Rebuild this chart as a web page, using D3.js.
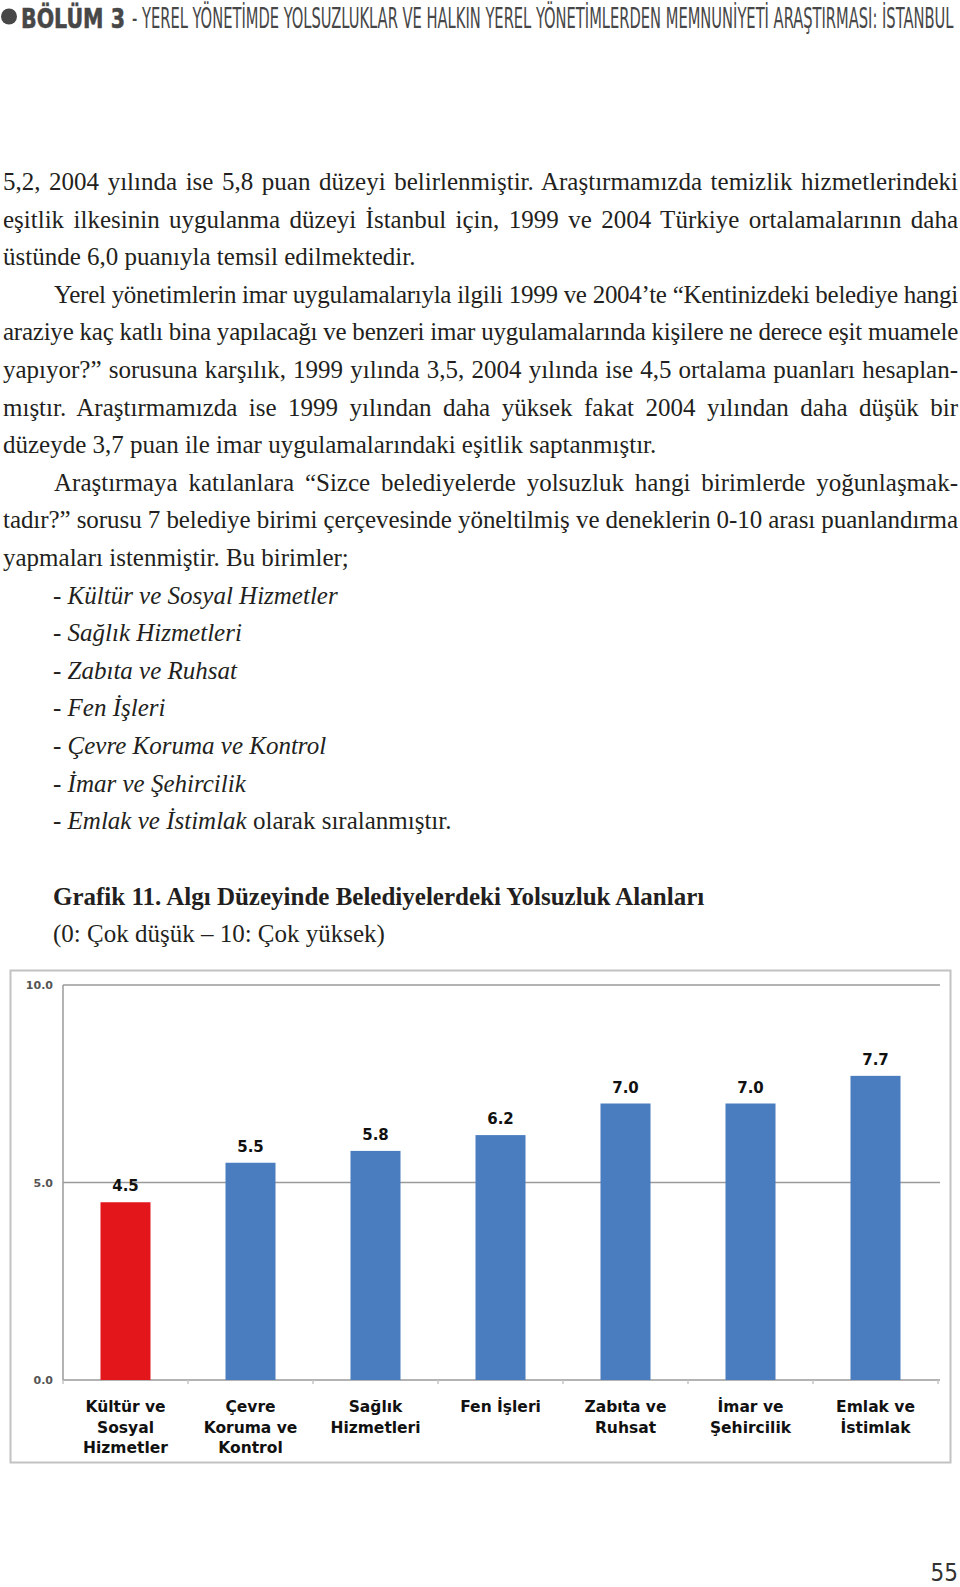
<!DOCTYPE html>
<html>
<head>
<meta charset="utf-8">
<script src="https://cdn.jsdelivr.net/npm/d3@7"></script>
<style>
  html, body { margin: 0; padding: 0; background: #fff; }
  svg { display: block; }
  .body-text { font-family: "Liberation Serif", "DejaVu Serif", serif; font-size: 25px; fill: #231f20; }
  .cat { font-family: "DejaVu Sans", sans-serif; font-weight: bold; font-size: 15.5px; fill: #111; }
  .val { font-family: "DejaVu Sans", sans-serif; font-weight: bold; font-size: 15px; fill: #111; }
  .tick-lbl { font-family: "DejaVu Sans", sans-serif; font-weight: bold; font-size: 11px; fill: #555; }
</style>
</head>
<body>
<div class="page"></div>
<script>
// chart data
const categories = [
  ["Kültür ve", "Sosyal", "Hizmetler"],
  ["Çevre", "Koruma ve", "Kontrol"],
  ["Sağlık", "Hizmetleri"],
  ["Fen İşleri"],
  ["Zabıta ve", "Ruhsat"],
  ["İmar ve", "Şehircilik"],
  ["Emlak ve", "İstimlak"]
]
const scores = [4.5, 5.5, 5.8, 6.2, 7.0, 7.0, 7.7]
const highlight = [true, false, false, false, false, false, false]
const yTicks = [0, 5, 10]

// page text
const bodyLines = [
  { t: "5,2, 2004 yılında ise 5,8 puan düzeyi belirlenmiştir. Araştırmamızda temizlik hizmetlerindeki", j: true },
  { t: "eşitlik ilkesinin uygulanma düzeyi İstanbul için, 1999 ve 2004 Türkiye ortalamalarının daha", j: true },
  { t: "üstünde 6,0 puanıyla temsil edilmektedir." },
  { t: "Yerel yönetimlerin imar uygulamalarıyla ilgili 1999 ve 2004’te “Kentinizdeki belediye hangi", j: true, indent: true },
  { t: "araziye kaç katlı bina yapılacağı ve benzeri imar uygulamalarında kişilere ne derece eşit muamele", j: true },
  { t: "yapıyor?” sorusuna karşılık, 1999 yılında 3,5, 2004 yılında ise 4,5 ortalama puanları hesaplan-", j: true },
  { t: "mıştır. Araştırmamızda ise 1999 yılından daha yüksek fakat 2004 yılından daha düşük bir", j: true },
  { t: "düzeyde 3,7 puan ile imar uygulamalarındaki eşitlik saptanmıştır." },
  { t: "Araştırmaya katılanlara “Sizce belediyelerde yolsuzluk hangi birimlerde yoğunlaşmak-", j: true, indent: true },
  { t: "tadır?” sorusu 7 belediye birimi çerçevesinde yöneltilmiş ve deneklerin 0-10 arası puanlandırma", j: true },
  { t: "yapmaları istenmiştir. Bu birimler;" },
  { t: "- Kültür ve Sosyal Hizmetler", it: true },
  { t: "- Sağlık Hizmetleri", it: true },
  { t: "- Zabıta ve Ruhsat", it: true },
  { t: "- Fen İşleri", it: true },
  { t: "- Çevre Koruma ve Kontrol", it: true },
  { t: "- İmar ve Şehircilik", it: true },
  { t: "- Emlak ve İstimlak", it: true, tail: " olarak sıralanmıştır." }
]

const W = 960, H = 1587
const svg = d3.select(".page").append("svg")
  .attr("width", W)
  .attr("height", H)

// squeeze a text horizontally so it spans a given width
function fitWidth(sel, x0, y0, width) {
  const natural = sel.node().getComputedTextLength()
  sel.attr("transform", `translate(${x0},${y0}) scale(${width / natural},1)`)
}

// header
const narrow = "Liberation Sans Narrow, DejaVu Sans Condensed, sans-serif"
const head = svg.append("g").attr("fill", "#474747")
head.append("circle").attr("cx", 9).attr("cy", 16.5).attr("r", 8)
const bold = head.append("text")
  .attr("font-family", "DejaVu Sans").attr("font-weight", "bold").attr("font-size", 27)
  .attr("stroke", "#474747").attr("stroke-width", 0.6)
  .text("BÖLÜM 3")
fitWidth(bold, 21, 28, 104)
const rest = head.append("text")
  .attr("font-family", narrow).attr("font-size", 28)
  .text("-  YEREL YÖNETİMDE YOLSUZLUKLAR VE HALKIN YEREL YÖNETİMLERDEN MEMNUNİYETİ ARAŞTIRMASI: İSTANBUL")
fitWidth(rest, 132, 28, 822)

// body text, justified by word spacing
const left = 3, right = 958, indentX = 54, listX = 53
const lineY = i => 190 + 37.6 * i

bodyLines.forEach((d, i) => {
  const x0 = d.it ? listX : (d.indent ? indentX : left)
  const txt = svg.append("text")
    .attr("class", "body-text")
    .attr("x", x0)
    .attr("y", lineY(i))
  txt.append("tspan").attr("font-style", d.it ? "italic" : null).text(d.t)
  if (d.tail) txt.append("tspan").text(d.tail)
  if (d.j) {
    const natural = txt.node().getComputedTextLength()
    const extra = right - x0 - natural
    if (extra >= 0) {
      txt.attr("word-spacing", extra / (d.t.split(" ").length - 1))
    } else {
      txt.attr("letter-spacing", extra / d.t.length)
    }
  }
})

// chart title
svg.append("text")
  .attr("class", "body-text")
  .attr("x", 53).attr("y", 905)
  .attr("font-weight", "bold")
  .text("Grafik 11. Algı Düzeyinde Belediyelerdeki Yolsuzluk Alanları")
svg.append("text")
  .attr("class", "body-text")
  .attr("x", 53).attr("y", 942)
  .text("(0: Çok düşük – 10: Çok yüksek)")

// chart frame
svg.append("rect")
  .attr("x", 10.5).attr("y", 970.5)
  .attr("width", 940).attr("height", 492)
  .attr("fill", "#fff")
  .attr("stroke", "#c2c2c2")
  .attr("stroke-width", 2)

const plot = { left: 63, right: 938, top: 985, bottom: 1380 }

const x = d3.scaleBand()
  .domain(d3.range(scores.length))
  .range([plot.left, plot.right])
  .paddingInner(0.6)
  .paddingOuter(0.3)

const y = d3.scaleLinear()
  .domain([0, 10])
  .range([plot.bottom, plot.top])

// gridlines
svg.append("g")
  .selectAll("line")
  .data(yTicks)
  .join("line")
  .attr("x1", plot.left).attr("x2", plot.right + 2)
  .attr("y1", d => y(d)).attr("y2", d => y(d))
  .attr("stroke", "#9a9a9a")
  .attr("stroke-width", 1.5)

svg.append("line")
  .attr("x1", plot.left).attr("x2", plot.left)
  .attr("y1", plot.top).attr("y2", plot.bottom)
  .attr("stroke", "#9a9a9a")
  .attr("stroke-width", 1.5)

svg.append("g")
  .selectAll("text")
  .data(yTicks)
  .join("text")
  .attr("class", "tick-lbl")
  .attr("x", 53)
  .attr("y", d => y(d) + 4)
  .attr("text-anchor", "end")
  .text(d => d3.format(".1f")(d))

// small ticks between categories
const step = x.step()
svg.append("g")
  .selectAll("line")
  .data(d3.range(scores.length + 1))
  .join("line")
  .attr("x1", i => plot.left + step * i).attr("x2", i => plot.left + step * i)
  .attr("y1", plot.bottom).attr("y2", plot.bottom + 4)
  .attr("stroke", "#c4c4c4")
  .attr("stroke-width", 1.5)

// bars
svg.append("g")
  .selectAll("rect")
  .data(scores)
  .join("rect")
  .attr("x", (d, i) => x(i))
  .attr("y", d => y(d))
  .attr("width", x.bandwidth())
  .attr("height", d => y(0) - y(d))
  .attr("fill", (d, i) => highlight[i] ? "#e3161c" : "#4a7dc0")

svg.append("g")
  .selectAll("text")
  .data(scores)
  .join("text")
  .attr("class", "val")
  .attr("x", (d, i) => x(i) + x.bandwidth() / 2)
  .attr("y", d => y(d) - 11)
  .attr("text-anchor", "middle")
  .text(d => d3.format(".1f")(d))

// category labels
const catG = svg.append("g")
categories.forEach((lines, i) => {
  const t = catG.append("text")
    .attr("class", "cat")
    .attr("text-anchor", "middle")
  lines.forEach((l, k) => {
    t.append("tspan")
      .attr("x", x(i) + x.bandwidth() / 2)
      .attr("y", 1412 + k * 20.5)
      .text(l)
  })
})

// page number
svg.append("text")
  .attr("x", 958).attr("y", 1581)
  .attr("text-anchor", "end")
  .attr("font-family", narrow)
  .attr("font-size", 24)
  .attr("fill", "#333")
  .text("55")
</script>
</body>
</html>
